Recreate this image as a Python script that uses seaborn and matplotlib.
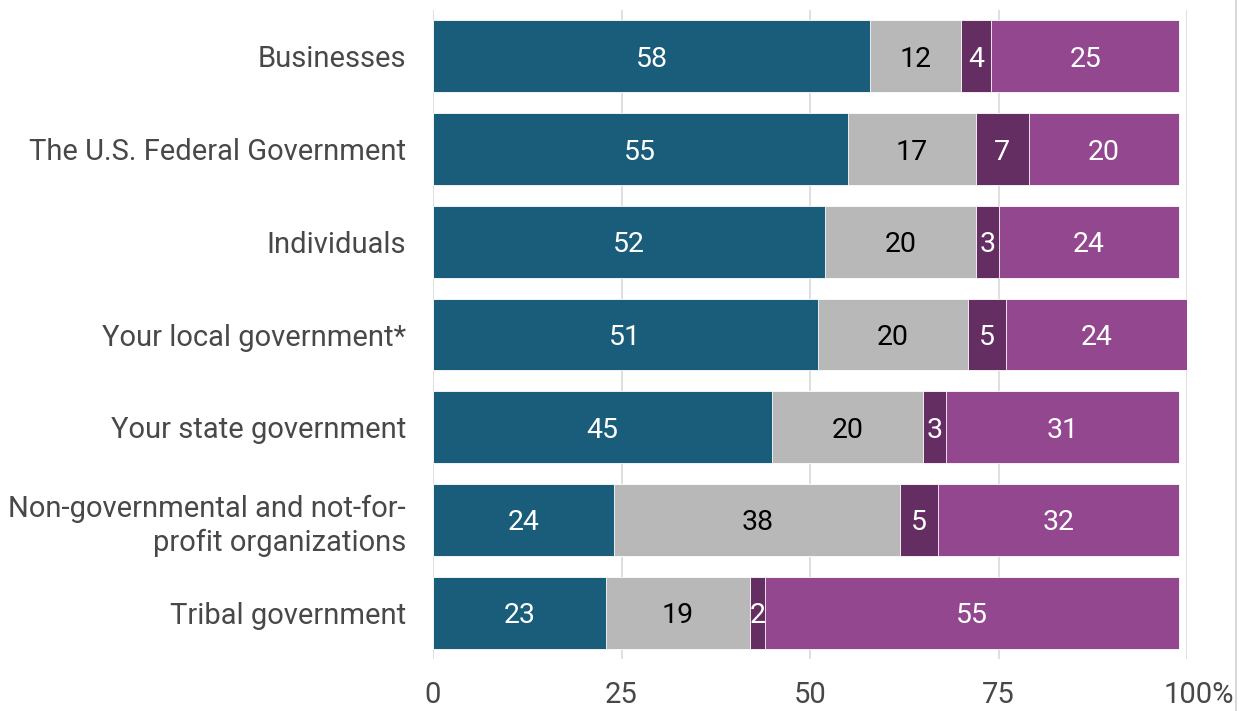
import numpy as np
import pandas as pd
import matplotlib
matplotlib.use("Agg")
import matplotlib.pyplot as plt
import matplotlib.transforms as mtransforms
from matplotlib.lines import Line2D
import seaborn as sns

categories = [
    "Businesses",
    "The U.S. Federal Government",
    "Individuals",
    "Your local government*",
    "Your state government",
    "Non-governmental and not-for-\nprofit organizations",
    "Tribal government",
]
seg1 = [58, 55, 52, 51, 45, 24, 23]
seg2 = [12, 17, 20, 20, 20, 38, 19]
seg3 = [4, 7, 3, 5, 3, 5, 2]
seg4 = [25, 20, 24, 24, 31, 32, 55]

segments = [seg1, seg2, seg3, seg4]
colors = ["#195d7b", "#b8b8b8", "#652e62", "#93478f"]
text_colors = ["white", "black", "white", "white"]
xticks = [0, 25, 50, 75, 100]
xtick_labels = ["0", "25", "50", "75", "100%"]

sns.set_theme(style="white")
plt.rcParams["font.family"] = ["Roboto", "DejaVu Sans"]

vals = np.array(segments, dtype=float)
cums = np.cumsum(vals, axis=0)

fig = plt.figure(figsize=(12.44, 7.11), dpi=100)
ax = fig.add_axes([433 / 1244, 1 - 659 / 711, (1187 - 433) / 1244, (659 - 10) / 711])

# stacked bars: draw cumulative totals back to front
for i in range(len(segments) - 1, -1, -1):
    df = pd.DataFrame({"category": categories, "total": cums[i]})
    sns.barplot(data=df, x="total", y="category", orient="h", color=colors[i],
                saturation=1, width=0.775, edgecolor="white", linewidth=0.6,
                ax=ax, zorder=2)

# value labels centred in each segment
for i, seg in enumerate(segments):
    for j, v in enumerate(seg):
        ax.text(cums[i][j] - v / 2, j, f"{v}", ha="center", va="center_baseline",
                color=text_colors[i], fontsize=20.5, zorder=5)

ax.set_xlim(0, 100)
ax.set_ylim(6.5, -0.5)
ax.set_xticks(xticks)
ax.set_xticklabels(xtick_labels)
ax.set_xlabel("")
ax.set_ylabel("")
ax.grid(axis="x", color="#d9d9d9", linewidth=1.2, zorder=0)
ax.grid(axis="y", visible=False)
ax.set_axisbelow(True)
for s in ax.spines.values():
    s.set_visible(False)
ax.tick_params(axis="y", length=0, pad=19.5, labelsize=21, labelcolor="#484848")
ax.tick_params(axis="x", length=0, pad=16, labelsize=21, labelcolor="#484848")
for lbl in ax.get_yticklabels():
    lbl.set_horizontalalignment("right")
    lbl.set_multialignment("right")
    lbl.set_linespacing(1.28)

# "100%" sits with its digits centred on the tick
last = ax.get_xticklabels()[-1]
last.set_transform(last.get_transform() + mtransforms.ScaledTranslation(12 / 100, 0, fig.dpi_scale_trans))

# thin frame line at the right edge
fig.add_artist(Line2D([1236 / 1244, 1236 / 1244], [0, 1], color="#d9d9d9", linewidth=1.5,
                      transform=fig.transFigure))

fig.savefig("out.png", dpi=100)
